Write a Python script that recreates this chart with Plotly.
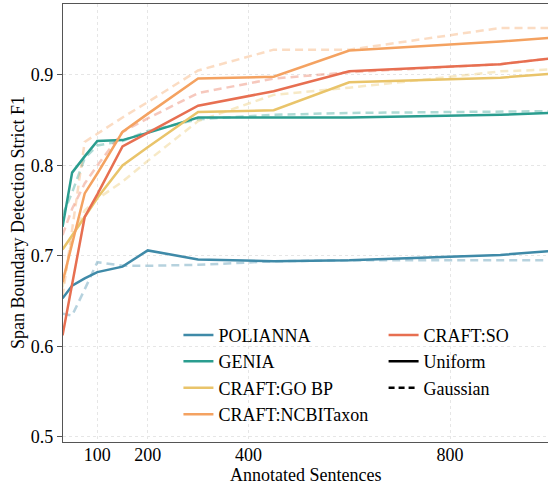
import plotly.graph_objects as go

# Data
sentences = [31, 50, 75, 100, 150, 200, 300, 450, 600, 900, 995]

series_names = ["POLIANNA", "GENIA", "CRAFT:GO BP", "CRAFT:NCBITaxon", "CRAFT:SO"]
series_colors = ["#3f8aa8", "#2a9d8f", "#e9c46a", "#f4a261", "#e76f51"]
series_fade = ["rgba(63,138,168,0.38)", "rgba(42,157,143,0.38)", "rgba(233,196,106,0.38)",
               "rgba(244,162,97,0.38)", "rgba(231,111,81,0.38)"]

polianna_uniform = [0.653, 0.667, 0.675, 0.682, 0.688, 0.706, 0.696, 0.694, 0.695, 0.701, 0.705]
polianna_gaussian = [0.636, 0.634, 0.663, 0.693, 0.689, 0.689, 0.690, 0.694, 0.695, 0.695, 0.695]
genia_uniform = [0.732, 0.792, 0.810, 0.827, 0.828, 0.836, 0.853, 0.853, 0.853, 0.856, 0.858]
genia_gaussian = [0.745, 0.770, 0.808, 0.822, 0.827, 0.838, 0.851, 0.856, 0.858, 0.859, 0.860]
gobp_uniform = [0.707, 0.722, 0.743, 0.764, 0.800, 0.820, 0.859, 0.861, 0.892, 0.897, 0.901]
gobp_gaussian = [0.665, 0.720, 0.750, 0.763, 0.782, 0.805, 0.849, 0.878, 0.886, 0.904, 0.906]
ncbi_uniform = [0.671, 0.714, 0.769, 0.791, 0.837, 0.857, 0.896, 0.898, 0.927, 0.937, 0.941]
ncbi_gaussian = [0.655, 0.730, 0.826, 0.835, 0.853, 0.870, 0.905, 0.928, 0.928, 0.952, 0.952]
so_uniform = [0.612, 0.670, 0.743, 0.768, 0.821, 0.836, 0.866, 0.882, 0.904, 0.912, 0.918]
so_gaussian = [0.723, 0.752, 0.780, 0.800, 0.837, 0.852, 0.880, 0.896, 0.903, 0.912, 0.918]

uniform_sets = [polianna_uniform, genia_uniform, gobp_uniform, ncbi_uniform, so_uniform]
gaussian_sets = [polianna_gaussian, genia_gaussian, gobp_gaussian, ncbi_gaussian, so_gaussian]

x_ticks = [100, 200, 400, 800]
y_ticks = [0.5, 0.6, 0.7, 0.8, 0.9]

FONT = "Times New Roman, Liberation Serif, DejaVu Serif, serif"
DASH = "8px,5px"

fig = go.Figure()

# Gaussian (dashed, faded) first so solid lines are on top
for name, col, ys in zip(series_names, series_fade, gaussian_sets):
    fig.add_trace(go.Scatter(x=sentences, y=ys, mode="lines", showlegend=False,
                             line=dict(color=col, width=2.5, dash=DASH), hoverinfo="skip"))

for i, (name, col, ys) in enumerate(zip(series_names, series_colors, uniform_sets)):
    fig.add_trace(go.Scatter(x=sentences, y=ys, mode="lines", name=name,
                             legendgroup=name,
                             legend="legend" if i < 4 else "legend2",
                             line=dict(color=col, width=2.5)))

# Style legend entries
fig.add_trace(go.Scatter(x=[None], y=[None], mode="lines", name="Uniform", legendgroup="Uniform",
                         legend="legend2", line=dict(color="black", width=2.5)))
fig.add_trace(go.Scatter(x=[None], y=[None], mode="lines", name="Gaussian", legendgroup="Gaussian",
                         legend="legend2", line=dict(color="black", width=2.5, dash="6px,4px")))

legend_common = dict(font=dict(family=FONT, size=18, color="black"), bgcolor="rgba(0,0,0,0)",
                     tracegroupgap=5.5, yanchor="top", xanchor="left", traceorder="normal")

fig.update_layout(
    width=548, height=484,
    margin=dict(l=63, r=0, t=4, b=42, autoexpand=False),
    paper_bgcolor="white", plot_bgcolor="white",
    font=dict(family=FONT, size=18, color="black"),
    legend=dict(x=0.238, y=0.286, **legend_common),
    legend2=dict(x=0.661, y=0.286, **legend_common),
    xaxis=dict(range=[31.9, 994.4], tickvals=x_ticks, ticktext=[str(v) for v in x_ticks],
               showgrid=True, gridcolor="#e6e6e6", griddash="dot", gridwidth=1,
               showline=True, linecolor="#555555", linewidth=1.2, mirror=True,
               ticks="", zeroline=False, ticklabelstandoff=-4,
               automargin=False,
               tickfont=dict(family=FONT, size=18, color="black")),
    yaxis=dict(range=[0.4941, 0.9785], tickvals=y_ticks, ticktext=[f"{v:.1f}" for v in y_ticks],
               showgrid=True, gridcolor="#e6e6e6", griddash="dot", gridwidth=1,
               showline=True, linecolor="#555555", linewidth=1.2,
               ticks="outside", ticklen=5, tickcolor="#555555", zeroline=False,
               automargin=False,
               tickfont=dict(family=FONT, size=18, color="black")),
    annotations=[
        dict(text="Annotated Sentences", xref="paper", yref="paper", x=0.50, y=0,
             xanchor="center", yanchor="middle", yshift=-33, showarrow=False,
             font=dict(family=FONT, size=18, color="black")),
        dict(text="Span Boundary Detection Strict F1", xref="paper", yref="paper", x=0, y=0.5,
             xanchor="center", yanchor="middle", xshift=-45, textangle=-90, showarrow=False,
             font=dict(family=FONT, size=18, color="black")),
    ],
)

fig.write_html("out.html", config={"displayModeBar": False},
               post_script="document.body.style.margin='0';")
